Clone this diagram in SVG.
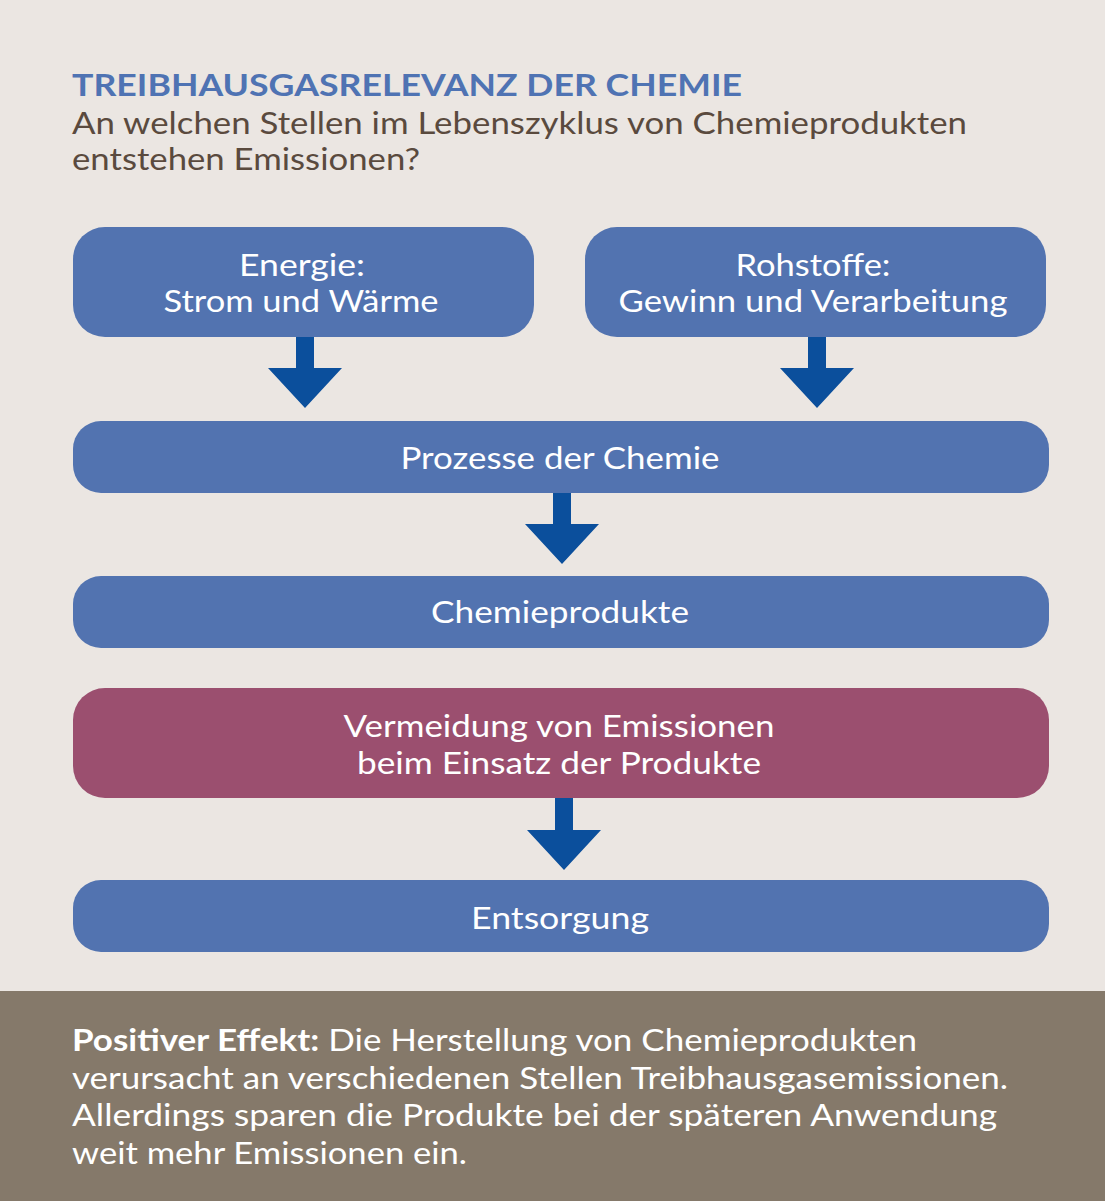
<svg xmlns="http://www.w3.org/2000/svg" width="1105" height="1201" viewBox="0 0 1105 1201">
<style>
.bg{fill:#ebe6e2}
.box{fill:#5273b0}
.pur{fill:#9b4f6f}
.arr{fill:#0b4f9c}
.t{font-family:Lato,"Open Sans","Liberation Sans",sans-serif;font-size:31px;fill:#ffffff;text-anchor:middle}
.title{font-family:Lato,"Open Sans","Liberation Sans",sans-serif;font-size:31px;font-weight:bold;fill:#4f73b3}
.sub{font-family:Lato,"Open Sans","Liberation Sans",sans-serif;font-size:31px;fill:#5a4a3e}
.foot{font-family:Lato,"Open Sans","Liberation Sans",sans-serif;font-size:30px;fill:#ffffff}
</style>
<rect class="bg" x="0" y="0" width="1105" height="1201"/>
<g id="header">
<text class="title" x="72" y="96" textLength="670" lengthAdjust="spacingAndGlyphs">TREIBHAUSGASRELEVANZ DER CHEMIE</text>
<text class="sub" x="72" y="134" textLength="895" lengthAdjust="spacingAndGlyphs">An welchen Stellen im Lebenszyklus von Chemieprodukten</text>
<text class="sub" x="72" y="170" textLength="348" lengthAdjust="spacingAndGlyphs">entstehen Emissionen?</text>
</g>
<g id="connectors">
<path class="arr" d="M296 336 H314 V368 H342 L305 408 L268 368 H296 Z"/>
<path class="arr" d="M808 336 H826 V368 H854 L817 408 L780 368 H808 Z"/>
<path class="arr" d="M553 492 H571 V524 H599 L562 564 L525 524 H553 Z"/>
<path class="arr" d="M555 797 H573 V830 H601 L564 870 L527 830 H555 Z"/>
</g>
<g id="energie">
<rect class="box" x="73" y="227" width="461" height="110" rx="32"/>
<text class="t" x="302" y="276" textLength="126" lengthAdjust="spacingAndGlyphs">Energie:</text>
<text class="t" x="301" y="312" textLength="275" lengthAdjust="spacingAndGlyphs">Strom und Wärme</text>
</g>
<g id="rohstoffe">
<rect class="box" x="585" y="227" width="461" height="110" rx="32"/>
<text class="t" x="813" y="276" textLength="155" lengthAdjust="spacingAndGlyphs">Rohstoffe:</text>
<text class="t" x="813" y="312" textLength="389" lengthAdjust="spacingAndGlyphs">Gewinn und Verarbeitung</text>
</g>
<g id="prozesse">
<rect class="box" x="73" y="421" width="976" height="72" rx="28"/>
<text class="t" x="560" y="469" textLength="319" lengthAdjust="spacingAndGlyphs">Prozesse der Chemie</text>
</g>
<g id="chemieprodukte">
<rect class="box" x="73" y="576" width="976" height="72" rx="28"/>
<text class="t" x="560" y="623" textLength="258" lengthAdjust="spacingAndGlyphs">Chemieprodukte</text>
</g>
<g id="vermeidung">
<rect class="pur" x="73" y="688" width="976" height="110" rx="32"/>
<text class="t" x="559" y="737" textLength="431" lengthAdjust="spacingAndGlyphs">Vermeidung von Emissionen</text>
<text class="t" x="559" y="774" textLength="404" lengthAdjust="spacingAndGlyphs">beim Einsatz der Produkte</text>
</g>
<g id="entsorgung">
<rect class="box" x="73" y="880" width="976" height="72" rx="28"/>
<text class="t" x="560" y="929" textLength="178" lengthAdjust="spacingAndGlyphs">Entsorgung</text>
</g>
<g id="footer">
<rect x="0" y="991" width="1105" height="210" fill="#85796a"/>
<text class="foot" x="72" y="1051" textLength="845" lengthAdjust="spacingAndGlyphs"><tspan font-weight="bold">Positiver Effekt:</tspan> Die Herstellung von Chemieprodukten</text>
<text class="foot" x="72" y="1089" textLength="936" lengthAdjust="spacingAndGlyphs">verursacht an verschiedenen Stellen Treibhausgasemissionen.</text>
<text class="foot" x="72" y="1126" textLength="925" lengthAdjust="spacingAndGlyphs">Allerdings sparen die Produkte bei der späteren Anwendung</text>
<text class="foot" x="72" y="1164" textLength="395" lengthAdjust="spacingAndGlyphs">weit mehr Emissionen ein.</text>
</g>
</svg>
